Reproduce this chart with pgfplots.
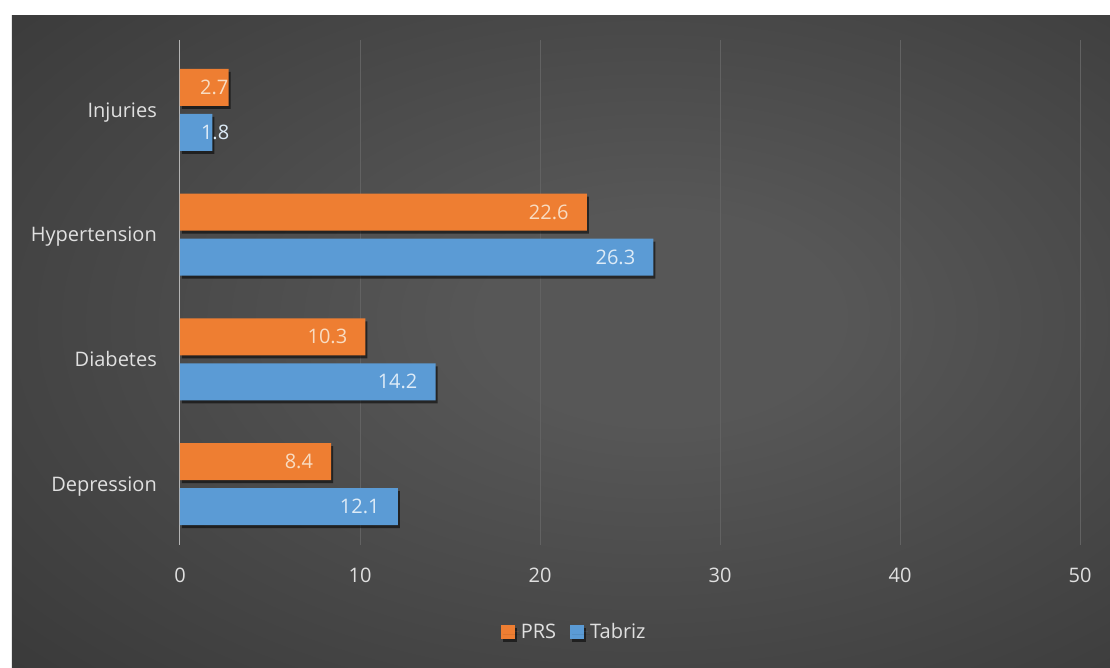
\documentclass[border=0pt]{standalone}
\usepackage{pgfplots}
\pgfplotsset{compat=1.18}
\usepackage{pgfplotstable}
\usepackage{fontspec}
\setmainfont{Open Sans}
\usetikzlibrary{shadows}
\definecolor{orng}{HTML}{EE7E32}
\definecolor{blu}{HTML}{5B9BD5}
\definecolor{txt}{HTML}{E0E0E0}
\definecolor{olab}{HTML}{F8DCC2}
\definecolor{blab}{HTML}{DDEBF7}
\definecolor{gridc}{HTML}{626262}
\definecolor{zeroc}{HTML}{B4B4B4}
\definecolor{bgc}{HTML}{575757}
\definecolor{bgo}{HTML}{2A2A2A}
\pgfdeclareradialshading{bgshade}{\pgfpoint{5bp}{2bp}}{color(0bp)=(bgc);color(8bp)=(bgc);color(55bp)=(bgo);color(90bp)=(bgo)}

\pgfplotstableread{
y  val  dx
0  8.4  -18
1  10.3 -18
2  22.6 -18
3  2.7  0
}\prs
\pgfplotstableread{
y  val  dx
0  12.1 -18
1  14.2 -18
2  26.3 -18
3  1.8  17
}\tab

\begin{document}
\begin{tikzpicture}
\fill[white] (-180pt,-122pt) rectangle (930pt,545pt);
\shade[shading=bgshade] (-168pt,-122pt) rectangle (930pt,529pt);
\begin{axis}[
  at={(0pt,0pt)}, anchor=south west,
  scale only axis, width=900pt, height=505pt,
  xmin=0, xmax=50, ymin=-0.489, ymax=3.561,
  xbar, bar width=37pt,
  axis line style={draw=none},
  xtick={10,20,30,40,50},
  extra x ticks={0},
  extra x tick style={grid style={color=zeroc, line width=1pt}},
  xmajorgrids, grid style={color=gridc, line width=0.8pt},
  major tick length=0pt,
  ytick={0,1,2,3},
  yticklabels={Depression,Diabetes,Hypertension,Injuries},
  tick label style={font=\fontsize{20}{24}\selectfont, text=txt, inner sep=0pt},
  xticklabel style={anchor=north, yshift=-23pt},
  yticklabel style={anchor=base east, xshift=-23pt, yshift=-7.1pt},
  /pgf/number format/assume math mode=true,
  nodes near coords,
  visualization depends on={\thisrow{dx} \as \dx},
  every node near coord/.append style={anchor=east, xshift=\dx pt, inner sep=0pt, font=\fontsize{20}{24}\selectfont},
  legend columns=-1,
  legend style={at={(0.438,-0.172)}, anchor=center, draw=none, fill=none,
    text=txt, font=\fontsize{20}{24}\selectfont,
    /tikz/every even column/.append style={column sep=12pt}},
]
\addplot[draw=none, fill=orng,
  drop shadow={shadow xshift=2pt, shadow yshift=-3pt, opacity=0.55, fill=black},
  bar shift=22.5pt,
  every node near coord/.append style={text=olab},
  legend image code/.code={\fill[orng] (0pt,-7pt) rectangle (14pt,7pt); \path (0pt,0pt) -- (18pt,0pt);}]
  table[x=val, y=y] {\prs};
\addlegendentry{PRS}
\addplot[draw=none, fill=blu,
  drop shadow={shadow xshift=2pt, shadow yshift=-3pt, opacity=0.55, fill=black},
  bar shift=-22.5pt,
  every node near coord/.append style={text=blab},
  legend image code/.code={\fill[blu] (0pt,-7pt) rectangle (14pt,7pt); \path (0pt,0pt) -- (18pt,0pt);}]
  table[x=val, y=y] {\tab};
\addlegendentry{Tabriz}
\end{axis}
\end{tikzpicture}
\end{document}
